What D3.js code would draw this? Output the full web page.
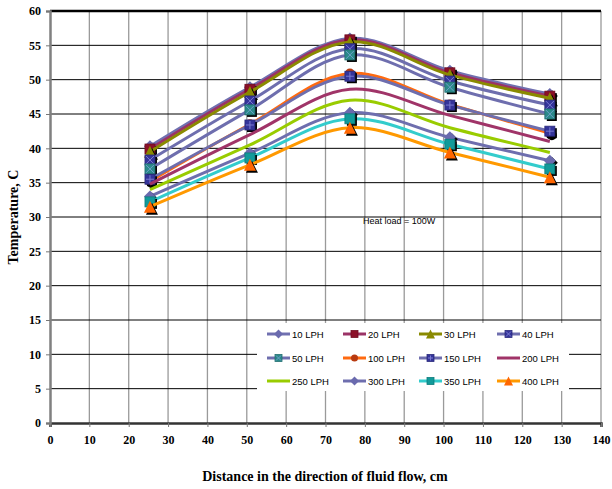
<!DOCTYPE html>
<html>
<head>
<meta charset="utf-8">
<script src="https://cdn.jsdelivr.net/npm/d3@7"></script>
<style>
  body { margin: 0; background: #fff; }
  svg { display: block; }
</style>
</head>
<body>
<div id="root"></div>
<script>
// distance along the flow, cm
var distances = [25.4, 50.8, 76.2, 101.6, 127];
var seriesNames = ["10 LPH", "20 LPH", "30 LPH", "40 LPH", "50 LPH", "100 LPH",
                   "150 LPH", "200 LPH", "250 LPH", "300 LPH", "350 LPH", "400 LPH"];
var temps10  = [40.3, 48.9, 56.0, 51.3, 47.9];
var temps20  = [39.9, 48.6, 55.8, 51.0, 47.6];
var temps30  = [39.5, 48.2, 55.5, 50.7, 47.3];
var temps40  = [38.3, 46.9, 54.5, 49.8, 46.3];
var temps50  = [37.0, 45.6, 53.6, 48.9, 45.0];
var temps100 = [35.2, 43.5, 50.9, 46.4, 42.2];
var temps150 = [35.5, 43.4, 50.5, 46.3, 42.5];
var temps200 = [34.8, 42.0, 48.6, 44.8, 41.0];
var temps250 = [34.0, 40.5, 47.0, 43.0, 39.4];
var temps300 = [33.0, 39.3, 45.2, 41.6, 38.2];
var temps350 = [32.2, 38.6, 44.3, 40.6, 37.0];
var temps400 = [31.5, 37.6, 43.0, 39.4, 35.8];
var xTicks = d3.range(0, 141, 10);
var yTicks = d3.range(0, 61, 5);

var allTemps = [temps10, temps20, temps30, temps40, temps50, temps100,
                temps150, temps200, temps250, temps300, temps350, temps400];

// line colour, marker type, marker fill, marker detail colour
var styles = [
  {line: "#7070b0", marker: "diamond",  fill: "#6a6aae"},
  {line: "#9b3366", marker: "square",   fill: "#8b1028"},
  {line: "#8a8a00", marker: "triangle", fill: "#8a8a00"},
  {line: "#6e6eae", marker: "squareX",  fill: "#34349a", mark: "#7b7bd0"},
  {line: "#6e6eae", marker: "squareX",  fill: "#2a8a8a", mark: "#6e9ec8"},
  {line: "#ff6a10", marker: "circle",   fill: "#b83a10"},
  {line: "#6e6eae", marker: "squarePlus", fill: "#34349a", mark: "#7b7bd0"},
  {line: "#a03468", marker: "none"},
  {line: "#99cc00", marker: "none"},
  {line: "#6e6eae", marker: "diamond",  fill: "#6a6aae"},
  {line: "#33cccc", marker: "square",   fill: "#119a9a"},
  {line: "#ff9900", marker: "triangle", fill: "#ff6600"}
];

var width = 612, height = 489;
var svg = d3.select("#root").append("svg")
    .attr("width", width)
    .attr("height", height);

var x = d3.scaleLinear().domain([0, 140]).range([50, 601]);
var y = d3.scaleLinear().domain([0, 60]).range([423, 11]);

// vertical gridlines (grey)
svg.append("g").selectAll("line").data(xTicks.slice(1)).enter().append("line")
    .attr("x1", function (d) { return x(d); }).attr("x2", function (d) { return x(d); })
    .attr("y1", y(60)).attr("y2", y(0))
    .attr("stroke", "#9a9a9a").attr("stroke-width", 1.3);

// horizontal gridlines (black)
svg.append("g").selectAll("line").data(yTicks.slice(1)).enter().append("line")
    .attr("x1", x(0)).attr("x2", x(140))
    .attr("y1", function (d) { return y(d); }).attr("y2", function (d) { return y(d); })
    .attr("stroke", "#000")
    .attr("stroke-width", function (d) { return d === 60 ? 2.5 : 1; });

// axes
var xAxis = svg.append("g")
    .attr("transform", "translate(0," + y(0) + ")")
    .call(d3.axisBottom(x).tickValues(xTicks).tickSize(4).tickPadding(8).tickFormat(d3.format("d")));
var yAxis = svg.append("g")
    .attr("transform", "translate(" + x(0) + ",0)")
    .call(d3.axisLeft(y).tickValues(yTicks).tickSize(4).tickPadding(5).tickFormat(d3.format("d")));

[xAxis, yAxis].forEach(function (a) {
  a.select(".domain").attr("stroke", "#555").attr("stroke-width", 2.5);
  a.selectAll(".tick line").attr("stroke", "#777");
  a.selectAll(".tick text")
      .attr("font-family", "'Liberation Serif', 'Times New Roman', serif")
      .attr("font-weight", "bold")
      .attr("font-size", 12)
      .attr("fill", "#000");
});
yAxis.select(".domain").attr("stroke", "#808080");
xAxis.select(".domain").attr("stroke", "#333");

// axis titles
svg.append("text")
    .attr("x", 325).attr("y", 481)
    .attr("text-anchor", "middle")
    .attr("font-family", "'Liberation Serif', 'Times New Roman', serif")
    .attr("font-weight", "bold").attr("font-size", 14)
    .text("Distance in the direction of fluid flow, cm");
svg.append("text")
    .attr("transform", "translate(18,217) rotate(-90)")
    .attr("text-anchor", "middle")
    .attr("font-family", "'Liberation Serif', 'Times New Roman', serif")
    .attr("font-weight", "bold").attr("font-size", 14)
    .text("Temperature, C");

svg.append("text")
    .attr("x", 363).attr("y", 224)
    .attr("font-family", "'Liberation Sans', Arial, sans-serif")
    .attr("font-size", 9)
    .text("Heat load = 100W");

var line = d3.line()
    .x(function (d, i) { return x(distances[i]); })
    .y(function (d) { return y(d); })
    .curve(d3.curveCatmullRom.alpha(0.5));

function drawMarker(g, st, s, shadow) {
  var col = shadow ? "#000" : st.fill;
  var h = s / 2;
  if (st.marker === "diamond") {
    g.append("path").attr("d", "M0," + (-h - 1) + "L" + (h + 1) + ",0L0," + (h + 1) + "L" + (-h - 1) + ",0Z").attr("fill", col);
  } else if (st.marker === "triangle") {
    g.append("path").attr("d", "M0," + (-h - 1) + "L" + (h + 1) + "," + (h + 1) + "L" + (-h - 1) + "," + (h + 1) + "Z").attr("fill", col);
  } else if (st.marker === "circle") {
    g.append("circle").attr("r", h).attr("fill", col);
  } else {
    g.append("rect").attr("x", -h).attr("y", -h).attr("width", s).attr("height", s).attr("fill", col)
        .attr("stroke", shadow ? "none" : d3.color(st.fill).darker(0.6)).attr("stroke-width", 0.8);
    if (!shadow && st.marker === "squareX") {
      g.append("path").attr("d", "M" + (-h + 1) + "," + (-h + 1) + "L" + (h - 1) + "," + (h - 1) +
          "M" + (h - 1) + "," + (-h + 1) + "L" + (-h + 1) + "," + (h - 1))
        .attr("stroke", st.mark).attr("stroke-width", 1);
    }
    if (!shadow && st.marker === "squarePlus") {
      g.append("path").attr("d", "M0," + (-h + 1) + "L0," + (h - 1) + "M" + (-h + 1) + ",0L" + (h - 1) + ",0")
        .attr("stroke", st.mark).attr("stroke-width", 1);
    }
  }
}

// series: line then markers, in order
allTemps.forEach(function (vals, si) {
  var st = styles[si];
  svg.append("path")
      .datum(vals)
      .attr("fill", "none")
      .attr("stroke", st.line)
      .attr("stroke-width", 3)
      .attr("d", line);
  if (st.marker === "none") return;
  vals.forEach(function (v, i) {
    var sh = svg.append("g").attr("transform", "translate(" + (x(distances[i]) + 2) + "," + (y(v) + 2) + ")");
    drawMarker(sh, st, 10, true);
    var g = svg.append("g").attr("transform", "translate(" + x(distances[i]) + "," + y(v) + ")");
    drawMarker(g, st, 10, false);
  });
});

// legend
var legend = svg.append("g");
legend.append("rect")
    .attr("x", 257).attr("y", 323).attr("width", 312).attr("height", 68)
    .attr("fill", "#fff");
var colX = [267, 343, 419, 497];
var rowY = [334, 358, 381];
seriesNames.forEach(function (name, i) {
  var st = styles[i];
  var lx = colX[i % 4], ly = rowY[Math.floor(i / 4)];
  var g = legend.append("g").attr("transform", "translate(" + lx + "," + ly + ")");
  g.append("line").attr("x1", 0).attr("x2", 23).attr("y1", 0).attr("y2", 0)
      .attr("stroke", st.line).attr("stroke-width", 3);
  if (st.marker !== "none") {
    var m = g.append("g").attr("transform", "translate(11.5,0)");
    drawMarker(m, st, 7, false);
  }
  g.append("text")
      .attr("x", 25).attr("y", 3.5)
      .attr("font-family", "'Liberation Sans', Arial, sans-serif")
      .attr("font-size", 9.5)
      .text(name);
});
</script>
</body>
</html>
